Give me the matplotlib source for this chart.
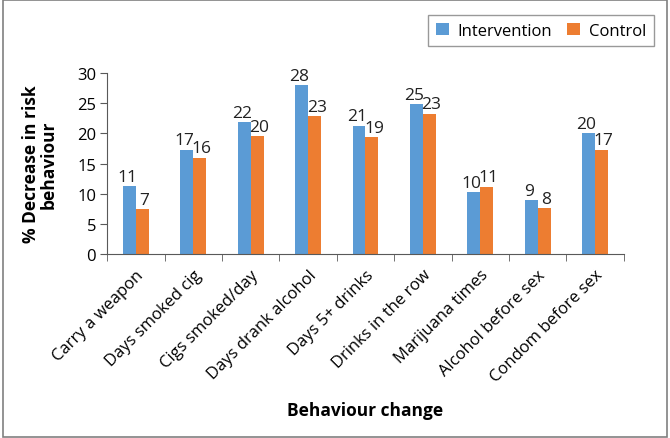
import numpy as np
import matplotlib.pyplot as plt
from matplotlib.patches import Rectangle

plt.rcParams['font.family'] = ['Open Sans', 'DejaVu Sans']

categories = ['Carry a weapon', 'Days smoked cig', 'Cigs smoked/day',
              'Days drank alcohol', 'Days 5+ drinks', 'Drinks in the row',
              'Marijuana times', 'Alcohol before sex', 'Condom before sex']
intervention = [11.3, 17.3, 21.9, 28.0, 21.3, 24.9, 10.3, 8.9, 20.0]
control = [7.4, 16.0, 19.6, 22.9, 19.4, 23.3, 11.2, 7.6, 17.3]

blue = '#5B9BD5'
orange = '#ED7D31'
axis_col = '#595959'

fig = plt.figure(figsize=(6.7, 4.39), dpi=100)
ax = fig.add_axes([0.160, 0.419, 0.771, 0.412])

x = np.arange(len(categories))
w = 0.225
b1 = ax.bar(x - w / 2, intervention, w, color=blue, label='Intervention')
b2 = ax.bar(x + w / 2, control, w, color=orange, label='Control')

# value labels, nudged apart a little like the original
for bars, dx in [(b1, -1.5), (b2, 1.5)]:
    for r in bars:
        h = r.get_height()
        ax.annotate('%.0f' % h, (r.get_x() + r.get_width() / 2, h),
                    xytext=(dx, 1), textcoords='offset points',
                    ha='center', va='bottom', fontsize=12.5, color='#222222')

ax.set_xlim(-0.5, len(categories) - 0.5)
ax.set_ylim(0, 30)
ax.set_yticks(range(0, 31, 5))
ax.set_xticks(x)
ax.set_xticklabels(categories, rotation=45, ha='right', rotation_mode='anchor')
ax.set_xticks(np.arange(-0.5, len(categories), 1), minor=True)
ax.tick_params(axis='x', which='major', length=0, pad=9, labelsize=12)
ax.tick_params(axis='x', which='minor', length=5, color=axis_col, direction='out')
ax.tick_params(axis='y', length=5, color=axis_col, labelsize=12, pad=3)

for s in ['top', 'right']:
    ax.spines[s].set_visible(False)
for s in ['left', 'bottom']:
    ax.spines[s].set_color(axis_col)

ax.set_ylabel('% Decrease in risk\nbehaviour', fontsize=12.5, fontweight='bold',
              linespacing=1.0, labelpad=14)
ax.set_xlabel('Behaviour change', fontsize=12.5, fontweight='bold')
ax.xaxis.set_label_coords(0.5, -0.81)

leg = fig.legend(handles=[b1, b2], loc='upper right', ncol=2,
                 bbox_to_anchor=(0.988, 0.982), frameon=True, fancybox=False,
                 fontsize=12, handlelength=0.8, handleheight=0.8,
                 columnspacing=0.9, handletextpad=0.5, borderpad=0.45)
leg.get_frame().set_edgecolor('#808080')
leg.get_frame().set_linewidth(1.0)

fig.patches.append(Rectangle((0.005, 0.003), 0.99, 0.994, transform=fig.transFigure,
                             fill=False, edgecolor='#808080', linewidth=1.2))

fig.savefig('out.png', dpi=100)
